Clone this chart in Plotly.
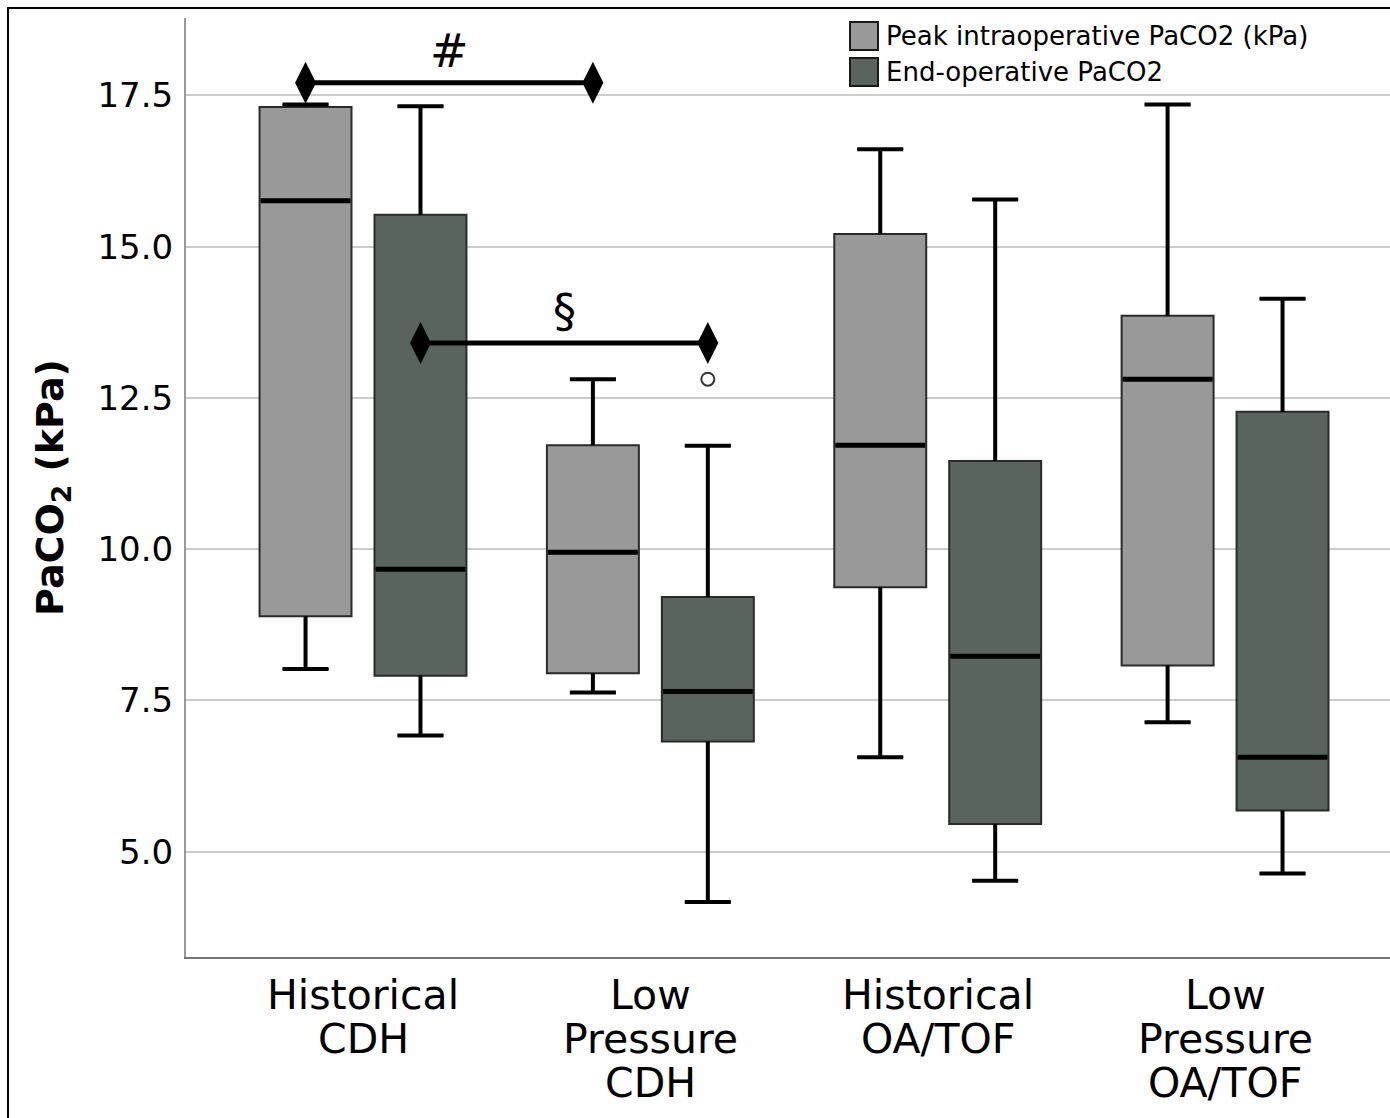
import plotly.graph_objects as go
import numpy as np

# ---------------- data ----------------
groups = ["Historical<br>CDH", "Low<br>Pressure<br>CDH", "Historical<br>OA/TOF", "Low<br>Pressure<br>OA/TOF"]

peak_name = "Peak intraoperative PaCO2 (kPa)"
peak_low = [8.02, 7.63, 6.56, 7.14]
peak_q1 = [8.89, 7.95, 9.37, 8.08]
peak_med = [15.76, 9.95, 11.72, 12.81]
peak_q3 = [17.31, 11.72, 15.21, 13.86]
peak_high = [17.35, 12.81, 16.61, 17.35]

end_name = "End-operative PaCO2"
end_low = [6.92, 4.17, 4.52, 4.64]
end_q1 = [7.91, 6.82, 5.46, 5.68]
end_med = [9.67, 7.65, 8.23, 6.56]
end_q3 = [15.53, 9.21, 11.46, 12.27]
end_high = [17.32, 11.71, 15.78, 14.14]

# outliers: (group index, series, value)
outliers = [(1, "end", 12.81)]

# significance brackets: (label, from group, to group, series, y)
brackets = [("#", 0, 1, "peak", 17.71), ("§", 0, 1, "end", 13.41)]

y_ticks = [5.0, 7.5, 10.0, 12.5, 15.0, 17.5]

# ---------------- style ----------------
PEAK_COL = "#999999"
END_COL = "#5a645f"
EDGE = "#2a2a2a"
FONT = "DejaVu Sans"
OFFSET = 0.2
BOX_W = 0.32
XLAB_SIZE = 41
XLAB_LINE = 44     # px between label lines
XLAB_TOP = 12      # px below axis for first line

# plot-area geometry in pixels (for paper-coordinate layout items)
L, T, PW, PH = 186, 18, 1204, 939
def px(xp):
    return (xp - L) / PW
def py(yp):
    return 1 - (yp - T) / PH

pos = np.arange(len(groups))
series_offset = {"peak": -OFFSET, "end": OFFSET}

series = [
    ("peak", peak_name, PEAK_COL, peak_low, peak_q1, peak_med, peak_q3, peak_high),
    ("end", end_name, END_COL, end_low, end_q1, end_med, end_q3, end_high),
]

fig = go.Figure()

for key, name, col, lo, q1, med, q3, hi in series:
    xs = pos + series_offset[key]
    fig.add_trace(go.Box(
        x=xs, q1=q1, median=med, q3=q3, lowerfence=lo, upperfence=hi, name=name,
        width=BOX_W, whiskerwidth=0.5, fillcolor=col,
        line=dict(color=EDGE, width=2), boxpoints=False, hoverinfo="skip",
        showlegend=False,
    ))
    # heavier whiskers with caps
    wx, wy = [], []
    cap = BOX_W / 4
    for x, a, b, c, d in zip(xs, lo, q1, q3, hi):
        wx += [x, x, None, x - cap, x + cap, None, x, x, None, x - cap, x + cap, None]
        wy += [a, b, None, a, a, None, c, d, None, d, d, None]
    fig.add_trace(go.Scatter(x=wx, y=wy, mode="lines", showlegend=False, hoverinfo="skip",
                             line=dict(color="black", width=4)))
    # heavier medians
    mx, my = [], []
    for x, m in zip(xs, med):
        mx += [x - BOX_W / 2 + 0.004, x + BOX_W / 2 - 0.004, None]
        my += [m, m, None]
    fig.add_trace(go.Scatter(x=mx, y=my, mode="lines", showlegend=False, hoverinfo="skip",
                             line=dict(color="black", width=5)))

# outliers
fig.add_trace(go.Scatter(
    x=[pos[g] + series_offset[s] for g, s, v in outliers],
    y=[v for g, s, v in outliers],
    mode="markers", showlegend=False, hoverinfo="skip",
    marker=dict(symbol="circle-open", size=13, color="#333333", line=dict(width=2)),
))

# brackets
for label, g0, g1, s, yv in brackets:
    xs = [pos[g0] + series_offset[s], pos[g1] + series_offset[s]]
    fig.add_trace(go.Scatter(
        x=xs, y=[yv, yv], mode="lines+markers", showlegend=False, hoverinfo="skip",
        line=dict(color="black", width=5),
        marker=dict(symbol="diamond-tall", size=30, color="black"),
    ))
    fig.add_annotation(x=sum(xs) / 2, y=yv, text=label, showarrow=False,
                       yshift=32, font=dict(family=FONT, size=46, color="black"))

# category labels (one text per line, tighter line spacing than tick labels allow)
for p, lab in zip(pos, groups):
    for j, line in enumerate(lab.split("<br>")):
        fig.add_annotation(x=p, xref="x", y=0, yref="paper", text=line, showarrow=False,
                           yanchor="top", yshift=-(XLAB_TOP + j * XLAB_LINE),
                           font=dict(family=FONT, size=XLAB_SIZE, color="black"))

# legend (drawn as swatches + text to match the large square keys)
for i, (key, name, col, *_rest) in enumerate(series):
    top = 22 + i * 36
    fig.add_shape(type="rect", xref="paper", yref="paper",
                  x0=px(850), x1=px(878), y0=py(top + 28), y1=py(top),
                  line=dict(color="#1a1a1a", width=2), fillcolor=col, layer="above")
    fig.add_annotation(x=px(884), y=py(top + 14), xref="paper", yref="paper",
                       xanchor="left", yanchor="middle", text=name, showarrow=False,
                       font=dict(family=FONT, size=26, color="black"))

# outer frame
fig.add_shape(type="rect", xref="paper", yref="paper",
              x0=px(8), x1=1.05, y0=-0.3, y1=py(8),
              line=dict(color="black", width=2), fillcolor="rgba(0,0,0,0)", layer="above")

fig.update_layout(
    width=1390, height=1118,
    margin=dict(l=L, r=1390 - L - PW, t=T, b=1118 - T - PH, autoexpand=False),
    paper_bgcolor="white", plot_bgcolor="white",
    font=dict(family=FONT, color="black"),
    showlegend=False,
    xaxis=dict(range=[-0.616, 3.574], tickvals=pos, showticklabels=False,
               showgrid=False, zeroline=False,
               showline=True, linecolor="#777777", linewidth=2, ticks="",
               automargin=False),
    yaxis=dict(range=[3.26, 18.78], tickvals=y_ticks,
               ticktext=[f"{t:.1f}" for t in y_ticks],
               tickfont=dict(size=34, family=FONT), showgrid=True, gridcolor="#cccccc",
               gridwidth=2, zeroline=False, showline=True, linecolor="#999999", linewidth=2,
               ticks="", ticklabelstandoff=4, automargin=False,
               title=dict(text="<b>PaCO<sub>2</sub> (kPa)</b>", font=dict(size=38, family=FONT),
                          standoff=22)),
)

fig.write_html("out.html")
